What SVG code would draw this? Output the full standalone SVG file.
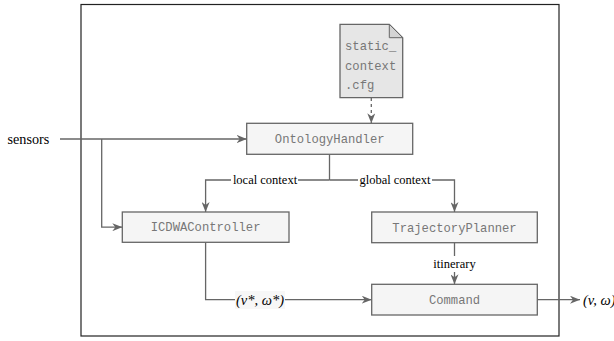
<svg xmlns="http://www.w3.org/2000/svg" width="614" height="341" viewBox="0 0 614 341">
<defs>
<style>
.box{fill:#f5f5f5;stroke:#666;stroke-width:1.3}
.doc{fill:#e6e6e6;stroke:#666;stroke-width:1.3}
.mono{font-family:"Liberation Mono","Courier New",monospace;font-size:12.2px;fill:#777}
.lbl{font-family:"Liberation Serif","Times New Roman",serif;font-size:12.5px;fill:#000}
.it{font-family:"Liberation Serif","Times New Roman",serif;font-size:14.5px;font-style:italic;fill:#000}
.edge{fill:none;stroke:#666;stroke-width:1.3}
.bg{fill:#fff}
</style>
<marker id="arr" viewBox="0 0 10 8" refX="10" refY="4" markerWidth="10" markerHeight="8" markerUnits="userSpaceOnUse" orient="auto">
<path d="M0,0 L10,4 L0,8 L3,4 z" fill="#666"/>
</marker>
</defs>
<rect x="0" y="0" width="614" height="341" fill="#fff"/>
<rect id="frame" x="81" y="4.5" width="478" height="331.5" fill="none" stroke="#222" stroke-width="1.2"/>

<g id="connectors">
<line class="edge" x1="371.3" y1="98" x2="371.3" y2="123.3" stroke-dasharray="3,3" marker-end="url(#arr)"/>
<line class="edge" x1="60" y1="139" x2="246.7" y2="139" marker-end="url(#arr)"/>
<polyline class="edge" points="101.7,139 101.7,227.2 122.3,227.2" marker-end="url(#arr)"/>
<line class="edge" x1="329.5" y1="154.3" x2="329.5" y2="180"/>
<polyline class="edge" points="329.5,180 205.6,180 205.6,212" marker-end="url(#arr)"/>
<polyline class="edge" points="329.5,180 454.5,180 454.5,212" marker-end="url(#arr)"/>
<polyline class="edge" points="205.6,242.3 205.6,299.7 371.7,299.7" marker-end="url(#arr)"/>
<line class="edge" x1="454.5" y1="242.7" x2="454.5" y2="284.3" marker-end="url(#arr)"/>
<line class="edge" x1="537.3" y1="299.7" x2="580" y2="299.7" marker-end="url(#arr)"/>
<rect class="bg" x="231" y="172" width="67" height="16"/>
<text class="lbl" x="265" y="184.3" text-anchor="middle">local context</text>
<rect class="bg" x="358" y="172" width="74" height="16"/>
<text class="lbl" x="395" y="184.3" text-anchor="middle">global context</text>
<rect class="bg" x="431" y="256" width="47" height="16"/>
<text class="lbl" x="454.5" y="268" text-anchor="middle">itinerary</text>
<rect x="235" y="291" width="50" height="18" fill="#f7f7f7"/>
<text class="it" x="260" y="304.5" text-anchor="middle">(<tspan>v</tspan>*, ω*)</text>
<text class="it" x="583" y="304.5">(v, ω)</text>
<text x="7.5" y="143.5" font-family="'Liberation Serif','Times New Roman',serif" font-size="14.2px" fill="#000">sensors</text>
</g>

<g id="static_context">
<path class="doc" d="M340,24.3 L389.3,24.3 L402.7,37.7 L402.7,97.7 L340,97.7 Z"/>
<path d="M389.3,24.3 L389.3,37.7 L402.7,37.7 Z" fill="#d4d4d4" stroke="#666" stroke-width="1"/>
<text class="mono" x="345" y="50">static_</text>
<text class="mono" x="345" y="69.5">context</text>
<text class="mono" x="345" y="88.5">.cfg</text>
</g>

<g id="OntologyHandler">
<rect class="box" x="246.7" y="123.3" width="166" height="31"/>
<text class="mono" x="329.7" y="142.8" text-anchor="middle">OntologyHandler</text>
</g>

<g id="ICDWAController">
<rect class="box" x="122.3" y="212" width="166.7" height="30.3"/>
<text class="mono" x="205.6" y="231.3" text-anchor="middle">ICDWAController</text>
</g>

<g id="TrajectoryPlanner">
<rect class="box" x="371.7" y="212" width="165.6" height="30.7"/>
<text class="mono" x="454.5" y="231.5" text-anchor="middle">TrajectoryPlanner</text>
</g>

<g id="Command">
<rect class="box" x="371.7" y="284.3" width="165.6" height="30.7"/>
<text class="mono" x="454.5" y="303.8" text-anchor="middle">Command</text>
</g>
</svg>
